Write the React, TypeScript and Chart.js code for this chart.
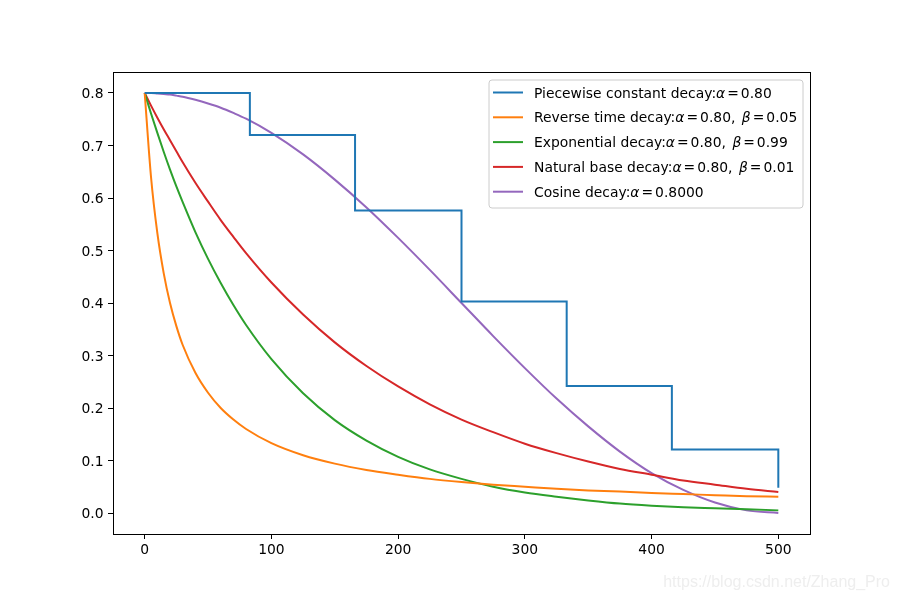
import React, { useEffect, useRef } from 'react';
import { Chart, registerables } from 'chart.js';

Chart.register(...registerables);

// ---- data ----
const xTicks = [0, 100, 200, 300, 400, 500];
const yTicks = [0, 0.1, 0.2, 0.3, 0.4, 0.5, 0.6, 0.7, 0.8];

const stepX = [0, 83, 166, 250, 333, 416, 500];
const piecewiseY = [0.8, 0.72, 0.576, 0.403, 0.242, 0.121, 0.048];

const curveX = [0, 5, 10, 15, 20, 25, 30, 40, 50, 60, 70, 80, 100, 125, 150, 175, 200, 225, 250, 275, 300, 325, 350, 375, 400, 425, 450, 475, 500];
const reverseTimeY = [0.8, 0.64, 0.533, 0.457, 0.4, 0.356, 0.32, 0.267, 0.229, 0.2, 0.178, 0.16, 0.133, 0.11, 0.094, 0.082, 0.073, 0.065, 0.059, 0.054, 0.05, 0.046, 0.043, 0.041, 0.038, 0.036, 0.034, 0.032, 0.031];
const exponentialY = [0.8, 0.761, 0.724, 0.688, 0.654, 0.622, 0.592, 0.535, 0.484, 0.438, 0.396, 0.358, 0.293, 0.228, 0.177, 0.138, 0.107, 0.083, 0.065, 0.05, 0.039, 0.031, 0.024, 0.018, 0.014, 0.011, 0.009, 0.007, 0.005];
const naturalBaseY = [0.8, 0.776, 0.753, 0.731, 0.71, 0.689, 0.668, 0.629, 0.593, 0.558, 0.526, 0.495, 0.439, 0.378, 0.325, 0.28, 0.241, 0.207, 0.178, 0.154, 0.132, 0.114, 0.098, 0.084, 0.073, 0.062, 0.054, 0.046, 0.04];
const cosineY = [0.8, 0.8, 0.799, 0.798, 0.797, 0.795, 0.793, 0.787, 0.78, 0.772, 0.762, 0.751, 0.724, 0.683, 0.635, 0.582, 0.524, 0.463, 0.4, 0.337, 0.276, 0.218, 0.165, 0.117, 0.076, 0.044, 0.02, 0.005, 0];

const legendLabels = [
  'Piecewise constant decay:$α$=0.80',
  'Reverse time decay:$α$=0.80, $β$=0.05',
  'Exponential decay:$α$=0.80, $β$=0.99',
  'Natural base decay:$α$=0.80, $β$=0.01',
  'Cosine decay:$α$=0.8000',
];
const colors = ['#1f77b4', '#ff7f0e', '#2ca02c', '#d62728', '#9467bd'];
const watermark = 'https://blog.csdn.net/Zhang_Pro';

const FONT = '"DejaVu Sans", sans-serif';
const FS = 13.89;

const overlayPlugin = {
  id: 'overlay',
  afterDraw(chart: any) {
    const ctx = chart.ctx as CanvasRenderingContext2D;
    const { left, top, right, bottom } = chart.chartArea;
    ctx.save();
    // frame
    ctx.strokeStyle = '#000';
    ctx.lineWidth = 1;
    ctx.strokeRect(Math.round(left) + 0.5, Math.round(top) + 0.5, Math.round(right - left), Math.round(bottom - top));

    // tick labels
    ctx.fillStyle = '#000';
    ctx.font = FS + 'px ' + FONT;
    ctx.textBaseline = 'alphabetic';
    ctx.textAlign = 'right';
    const ys = chart.scales.y;
    yTicks.forEach((v) => {
      const py = ys.getPixelForValue(v);
      ctx.fillText(v.toFixed(1), left - 9.5, py + 5);
    });
    ctx.textAlign = 'center';
    const xs = chart.scales.x;
    xTicks.forEach((v) => {
      const px = xs.getPixelForValue(v);
      ctx.fillText(String(v), px, bottom + 20);
    });

    // legend
    const bx = 489, by = 80, bw = 314, bh = 128, r = 3;
    ctx.beginPath();
    ctx.moveTo(bx + r, by);
    ctx.lineTo(bx + bw - r, by);
    ctx.quadraticCurveTo(bx + bw, by, bx + bw, by + r);
    ctx.lineTo(bx + bw, by + bh - r);
    ctx.quadraticCurveTo(bx + bw, by + bh, bx + bw - r, by + bh);
    ctx.lineTo(bx + r, by + bh);
    ctx.quadraticCurveTo(bx, by + bh, bx, by + bh - r);
    ctx.lineTo(bx, by + r);
    ctx.quadraticCurveTo(bx, by, bx + r, by);
    ctx.closePath();
    ctx.fillStyle = 'rgba(255,255,255,0.8)';
    ctx.fill();
    ctx.strokeStyle = '#cccccc';
    ctx.lineWidth = 1;
    ctx.stroke();

    legendLabels.forEach((label, i) => {
      const cy = 92.5 + i * 24.8;
      ctx.strokeStyle = colors[i];
      ctx.lineWidth = 2;
      ctx.beginPath();
      ctx.moveTo(493, cy);
      ctx.lineTo(523, cy);
      ctx.stroke();
      let x = 534;
      ctx.fillStyle = '#000';
      ctx.textBaseline = 'alphabetic';
      ctx.textAlign = 'left';
      label.split('$').forEach((part, k) => {
        ctx.font = (k % 2 === 1 ? 'italic ' : '') + FS + 'px ' + FONT;
        part.split(/(=|, )/).forEach((tok) => {
          if (!tok) return;
          if (tok === '=') {
            x += 2;
            ctx.fillText('=', x, cy + 5);
            x += ctx.measureText('=').width + 2;
          } else if (tok === ', ') {
            ctx.fillText(',', x, cy + 5);
            x += ctx.measureText(',').width + 6.5;
          } else {
            ctx.fillText(tok, x, cy + 5);
            x += ctx.measureText(tok).width;
          }
        });
      });
    });

    // watermark
    ctx.font = '16px "Liberation Sans", Arial, sans-serif';
    ctx.fillStyle = '#eeeeee';
    ctx.textAlign = 'right';
    ctx.textBaseline = 'alphabetic';
    ctx.fillText(watermark, 890, 587);
    ctx.restore();
  },
};

export default function App() {
  const ref = useRef<HTMLCanvasElement>(null);
  useEffect(() => {
    if (!ref.current) return;
    const toPts = (xs: number[], ys: number[]) => xs.map((x, i) => ({ x, y: ys[i] }));
    const curve = (label: string, ys: number[], color: string) => ({
      label,
      data: toPts(curveX, ys),
      borderColor: color,
      backgroundColor: color,
      borderWidth: 2,
      pointRadius: 0,
      cubicInterpolationMode: 'monotone' as const,
      fill: false,
    });
    const chart = new Chart(ref.current, {
      type: 'line',
      data: {
        datasets: [
          {
            label: 'Piecewise constant decay:α = 0.80',
            data: toPts(stepX, piecewiseY),
            borderColor: colors[0],
            backgroundColor: colors[0],
            borderWidth: 2,
            pointRadius: 0,
            stepped: 'before',
            fill: false,
          } as any,
          curve('Reverse time decay:α = 0.80, β = 0.05', reverseTimeY, colors[1]),
          curve('Exponential decay:α = 0.80, β = 0.99', exponentialY, colors[2]),
          curve('Natural base decay:α = 0.80, β = 0.01', naturalBaseY, colors[3]),
          curve('Cosine decay:α = 0.8000', cosineY, colors[4]),
        ],
      },
      options: {
        responsive: false,
        animation: false,
        events: [],
        layout: { padding: { top: 72, right: 90, left: 0, bottom: 0 } },
        plugins: { legend: { display: false }, tooltip: { enabled: false }, title: { display: false } },
        scales: {
          x: {
            type: 'linear',
            min: -25,
            max: 525,
            afterBuildTicks: (s: any) => { s.ticks = xTicks.map((v) => ({ value: v })); },
            afterFit: (s: any) => { s.height = 66; },
            grid: { drawOnChartArea: false, drawTicks: true, tickLength: 5, color: '#000', lineWidth: 1 },
            border: { display: false },
            ticks: { display: false },
          },
          y: {
            type: 'linear',
            min: -0.04,
            max: 0.84,
            afterBuildTicks: (s: any) => { s.ticks = yTicks.map((v) => ({ value: v })); },
            afterFit: (s: any) => { s.width = 113; },
            grid: { drawOnChartArea: false, drawTicks: true, tickLength: 5, color: '#000', lineWidth: 1 },
            border: { display: false },
            ticks: { display: false },
          },
        },
      },
      plugins: [overlayPlugin],
    });
    return () => chart.destroy();
  }, []);
  return (
    <div style={{ position: 'absolute', left: 0, top: 0, width: 900, height: 600, background: '#fff' }}>
      <canvas ref={ref} width={900} height={600} style={{ display: 'block' }} />
    </div>
  );
}
